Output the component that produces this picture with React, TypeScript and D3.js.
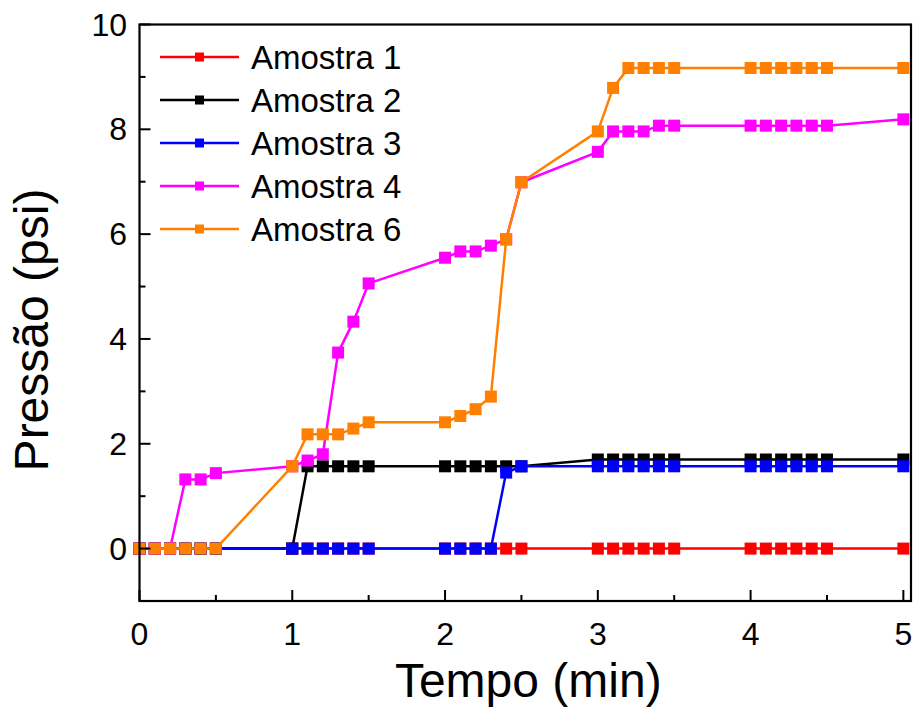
import React from "react";
import * as d3 from "d3";

const time = [0, 0.1, 0.2, 0.3, 0.4, 0.5, 1.0, 1.1, 1.2, 1.3, 1.4, 1.5, 2.0, 2.1, 2.2, 2.3, 2.4, 2.5, 3.0, 3.1, 3.2, 3.3, 3.4, 3.5, 4.0, 4.1, 4.2, 4.3, 4.4, 4.5, 5.0];

const amostra1 = [0, 0, 0, 0, 0, 0, 0, 0, 0, 0, 0, 0, 0, 0, 0, 0, 0, 0, 0, 0, 0, 0, 0, 0, 0, 0, 0, 0, 0, 0, 0];
const amostra2 = [0, 0, 0, 0, 0, 0, 0, 1.57, 1.57, 1.57, 1.57, 1.57, 1.57, 1.57, 1.57, 1.57, 1.57, 1.57, 1.7, 1.7, 1.7, 1.7, 1.7, 1.7, 1.7, 1.7, 1.7, 1.7, 1.7, 1.7, 1.7];
const amostra3 = [0, 0, 0, 0, 0, 0, 0, 0, 0, 0, 0, 0, 0, 0, 0, 0, 1.45, 1.57, 1.57, 1.57, 1.57, 1.57, 1.57, 1.57, 1.57, 1.57, 1.57, 1.57, 1.57, 1.57, 1.57];
const amostra4 = [0, 0, 0, 1.32, 1.32, 1.44, 1.57, 1.68, 1.8, 3.74, 4.33, 5.06, 5.55, 5.67, 5.67, 5.78, 5.9, 6.99, 7.57, 7.96, 7.96, 7.96, 8.07, 8.07, 8.07, 8.07, 8.07, 8.07, 8.07, 8.07, 8.19];
const amostra6 = [0, 0, 0, 0, 0, 0, 1.57, 2.18, 2.18, 2.18, 2.29, 2.41, 2.41, 2.53, 2.66, 2.9, 5.9, 6.99, 7.96, 8.79, 9.17, 9.17, 9.17, 9.17, 9.17, 9.17, 9.17, 9.17, 9.17, 9.17, 9.17];

const seriesNames = ["Amostra 1", "Amostra 2", "Amostra 3", "Amostra 4", "Amostra 6"];
const seriesValues = [amostra1, amostra2, amostra3, amostra4, amostra6];
const seriesColors = ["#ff0000", "#000000", "#0000ff", "#ff00ff", "#ff8000"];

const xMajorTicks = [0, 1, 2, 3, 4, 5];
const xMinorTicks = [0.5, 1.5, 2.5, 3.5, 4.5];
const yMajorTicks = [0, 2, 4, 6, 8, 10];
const yMinorTicks = [1, 3, 5, 7, 9];

const W = 915;
const H = 713;
const left = 139.5;
const right = 911;
const top = 24.5;
const bottom = 601;
const FONT = "Arial, 'Liberation Sans', Helvetica, sans-serif";

export default function App() {
  const x = d3.scaleLinear().domain([0, 5.05]).range([left, right]);
  const y = d3.scaleLinear().domain([-1, 10]).range([bottom, top]);
  const line = d3
    .line<[number, number]>()
    .x((d) => x(d[0]))
    .y((d) => y(d[1]));
  const ms = 12;
  const legendX1 = 160;
  const legendX2 = 239;
  const legendY0 = 57;
  const legendDy = 43;

  return (
    <svg width={W} height={H} style={{ position: "absolute", left: 0, top: 0, background: "#fff" }} fontFamily={FONT}>
      <rect x={0} y={0} width={W} height={H} fill="#fff" />
      {seriesValues.map((vals, si) => {
        const pts: [number, number][] = time.map((t, i) => [t, vals[i]]);
        return (
          <g key={si}>
            <path d={line(pts) || ""} fill="none" stroke={seriesColors[si]} strokeWidth={2.5} />
            {pts.map((p, i) => (
              <rect key={i} x={x(p[0]) - ms / 2} y={y(p[1]) - ms / 2} width={ms} height={ms} fill={seriesColors[si]} />
            ))}
          </g>
        );
      })}
      {/* frame */}
      <rect x={left} y={top} width={right - left} height={bottom - top} fill="none" stroke="#000" strokeWidth={2.2} />
      {/* x ticks */}
      {xMajorTicks.map((t) => (
        <g key={"xm" + t}>
          <line x1={x(t)} x2={x(t)} y1={bottom} y2={bottom - 11} stroke="#000" strokeWidth={2} />
          <text x={x(t)} y={645} fontSize={32} textAnchor="middle" fill="#000">
            {t}
          </text>
        </g>
      ))}
      {xMinorTicks.map((t) => (
        <line key={"xn" + t} x1={x(t)} x2={x(t)} y1={bottom} y2={bottom - 6} stroke="#000" strokeWidth={2} />
      ))}
      {/* y ticks */}
      {yMajorTicks.map((t) => (
        <g key={"ym" + t}>
          <line x1={left} x2={left + 11} y1={y(t)} y2={y(t)} stroke="#000" strokeWidth={2} />
          <text x={127} y={y(t) + 11} fontSize={32} textAnchor="end" fill="#000">
            {t}
          </text>
        </g>
      ))}
      {yMinorTicks.map((t) => (
        <line key={"yn" + t} x1={left} x2={left + 6} y1={y(t)} y2={y(t)} stroke="#000" strokeWidth={2} />
      ))}
      {/* axis titles */}
      <text x={(left + right) / 2 + 3} y={697} fontSize={48} textAnchor="middle" fill="#000">
        Tempo (min)
      </text>
      <text transform={`translate(48, 330) rotate(-90)`} fontSize={48} textAnchor="middle" fill="#000">
        Pressão (psi)
      </text>
      {/* legend */}
      {seriesNames.map((name, i) => {
        const cy = legendY0 + i * legendDy;
        return (
          <g key={name}>
            <line x1={legendX1} x2={legendX2} y1={cy} y2={cy} stroke={seriesColors[i]} strokeWidth={2.5} />
            <rect x={(legendX1 + legendX2) / 2 - 4.5} y={cy - 4.5} width={9} height={9} fill={seriesColors[i]} />
            <text x={251} y={cy + 12} fontSize={33} fill="#000">
              {name}
            </text>
          </g>
        );
      })}
    </svg>
  );
}
